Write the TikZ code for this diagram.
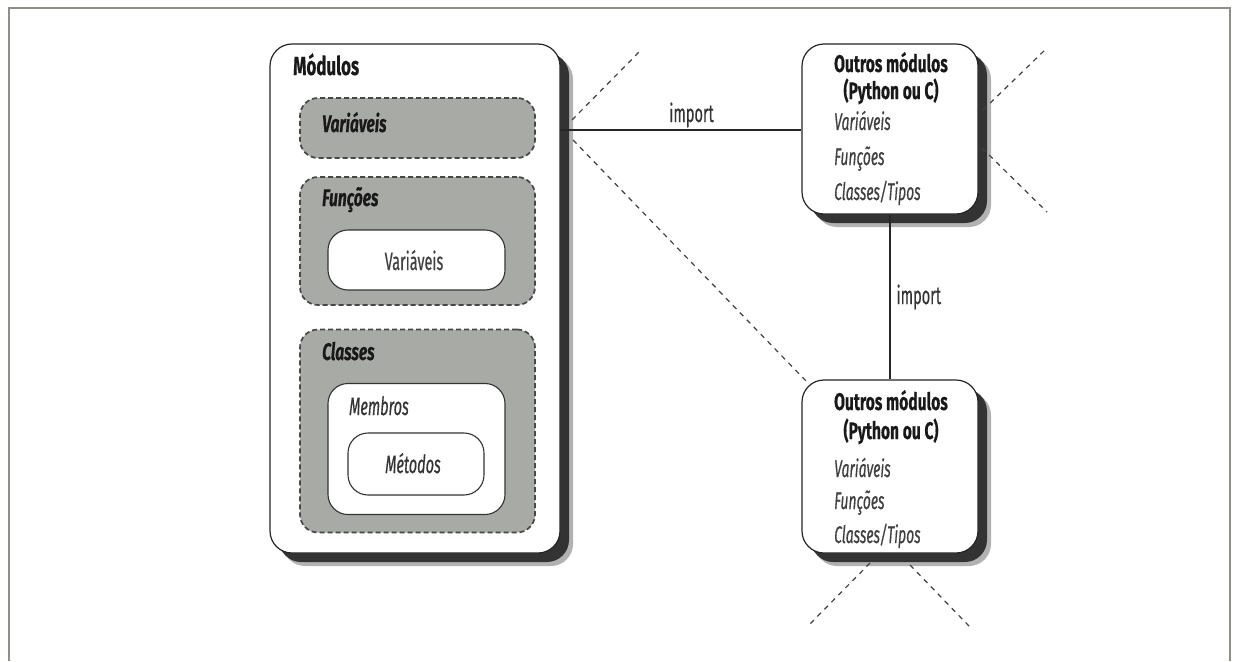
\documentclass[tikz,border=0pt]{standalone}
\usepackage{fontspec}
\setmainfont{Fira Sans}[FakeStretch=0.65, FakeBold=0.4]
\newfontfamily\narrowf{Fira Sans}[FakeStretch=0.58, FakeBold=0.45]
\definecolor{grayfill}{RGB}{168,170,165}
\definecolor{framecol}{RGB}{140,145,135}
\definecolor{txt}{RGB}{25,25,25}
\begin{document}
\begin{tikzpicture}[x=1pt,y=-1pt,
  shadowbox/.style={draw=black!85, line width=1.2pt, fill=white, rounded corners=22pt, inner sep=0pt,
    preaction={fill=black!30, transform canvas={shift={(13pt,-13pt)}}},
    preaction={fill=black!80, transform canvas={shift={(9pt,-9pt)}}}},
  dashbox/.style={draw=black!72, dash pattern=on 5pt off 3pt, line width=1.7pt, fill=grayfill, rounded corners=18pt, inner sep=0pt},
  whitebox/.style={draw=black!80, line width=1.1pt, fill=white, rounded corners=20pt, inner sep=0pt},
  lbl/.style={anchor=base west, inner sep=0pt, text=txt},
  bigb/.style={lbl, font=\fontsize{24}{26}\selectfont\bfseries},
  bigbi/.style={lbl, font=\fontsize{24}{26}\selectfont\bfseries\itshape},
  it/.style={lbl, font=\narrowf\fontsize{24}{26}\selectfont\itshape, text=black!75},
  ctr/.style={anchor=base, inner sep=0pt, text=txt},
  conn/.style={draw=black!85, line width=1.2pt},
  dline/.style={draw=black!75, line width=1.2pt, dash pattern=on 5pt off 5pt},
  lab/.style={anchor=base, inner sep=0pt, font=\narrowf\fontsize{25}{26}\selectfont, text=black!80}
]
\useasboundingbox (0,0) rectangle (1236,661);
\fill[white] (0,0) rectangle (1236,661);
\draw[framecol, line width=2.5pt] (9,661) -- (9,8) -- (1230,8) -- (1230,661);

% main module
\node[shadowbox, minimum width=290pt, minimum height=509pt] (mod) at (415,298.5) {};
\node[bigb, font=\fontsize{26}{28}\selectfont\bfseries] (modt) at (293,75) {Módulos};
\node[dashbox, minimum width=235pt, minimum height=60pt] (var) at (417.5,128) {};
\node[bigbi] (vart) at (322,132) {Variáveis};
\node[dashbox, minimum width=235pt, minimum height=128pt] (fun) at (417.5,241) {};
\node[bigbi] (funt) at (322,206) {Funções};
\node[whitebox, minimum width=177pt, minimum height=60pt] (fvar) at (416.5,260) {};
\node[ctr, font=\narrowf\fontsize{25}{26}\selectfont, text=black!75] (fvart) at (414,270) {Variáveis};
\node[dashbox, minimum width=235pt, minimum height=203pt] (cls) at (417.5,431) {};
\node[bigbi] (clst) at (322,360) {Classes};
\node[whitebox, minimum width=177pt, minimum height=131pt] (mem) at (416.5,449) {};
\node[lbl, font=\narrowf\fontsize{25}{26}\selectfont\itshape, text=black!80] (memt) at (349,415) {Membros};
\node[whitebox, minimum width=136pt, minimum height=62pt] (met) at (416,464) {};
\node[ctr, font=\narrowf\fontsize{25}{26}\selectfont\itshape, text=black!80] (mett) at (413,473) {Métodos};

% other modules (top)
\node[shadowbox, minimum width=176pt, minimum height=170pt] (top) at (890,129) {};
\node[ctr, font=\fontsize{24}{26}\selectfont\bfseries] (t1) at (891,72) {Outros módulos};
\node[ctr, font=\fontsize{24}{26}\selectfont\bfseries] (t2) at (891,99) {(Python ou C)};
\node[it] (t3) at (834,130) {Variáveis};
\node[it] (t4) at (834,165) {Funções};
\node[it] (t5) at (834,200) {Classes/Tipos};

% other modules (bottom)
\node[shadowbox, minimum width=176pt, minimum height=173pt] (bot) at (890,466.5) {};
\node[ctr, font=\fontsize{24}{26}\selectfont\bfseries] (b1) at (891,410) {Outros módulos};
\node[ctr, font=\fontsize{24}{26}\selectfont\bfseries] (b2) at (891,439) {(Python ou C)};
\node[it] (b3) at (834,477) {Variáveis};
\node[it] (b4) at (834,509) {Funções};
\node[it] (b5) at (834,543) {Classes/Tipos};

% connectors
\coordinate (mj) at (560,130);
\draw[conn] (mj) -- (mj -| top.west) node[lab, pos=0.545, yshift=8pt] (imp1) {import};
\draw[conn] (top.south) -- (bot.north) node[lab, pos=0.5, anchor=west, xshift=6pt] (imp2) {import};

% dashed lines
\coordinate (a1) at (572,120); \coordinate (a2) at (642,49);
\coordinate (a3) at (573,140); \coordinate (a4) at (808,383);
\coordinate (r1) at (983,110); \coordinate (r2) at (1047,48);
\coordinate (r3) at (982,148); \coordinate (r4) at (1047,212);
\coordinate (s1) at (870,563); \coordinate (s2) at (807,627);
\coordinate (s3) at (910,565); \coordinate (s4) at (970,627);
\draw[dline] (a1) -- (a2);
\draw[dline] (a3) -- (a4);
\draw[dline] (r1) -- (r2);
\draw[dline] (r3) -- (r4);
\draw[dline] (s1) -- (s2);
\draw[dline] (s3) -- (s4);
\end{tikzpicture}
\end{document}
